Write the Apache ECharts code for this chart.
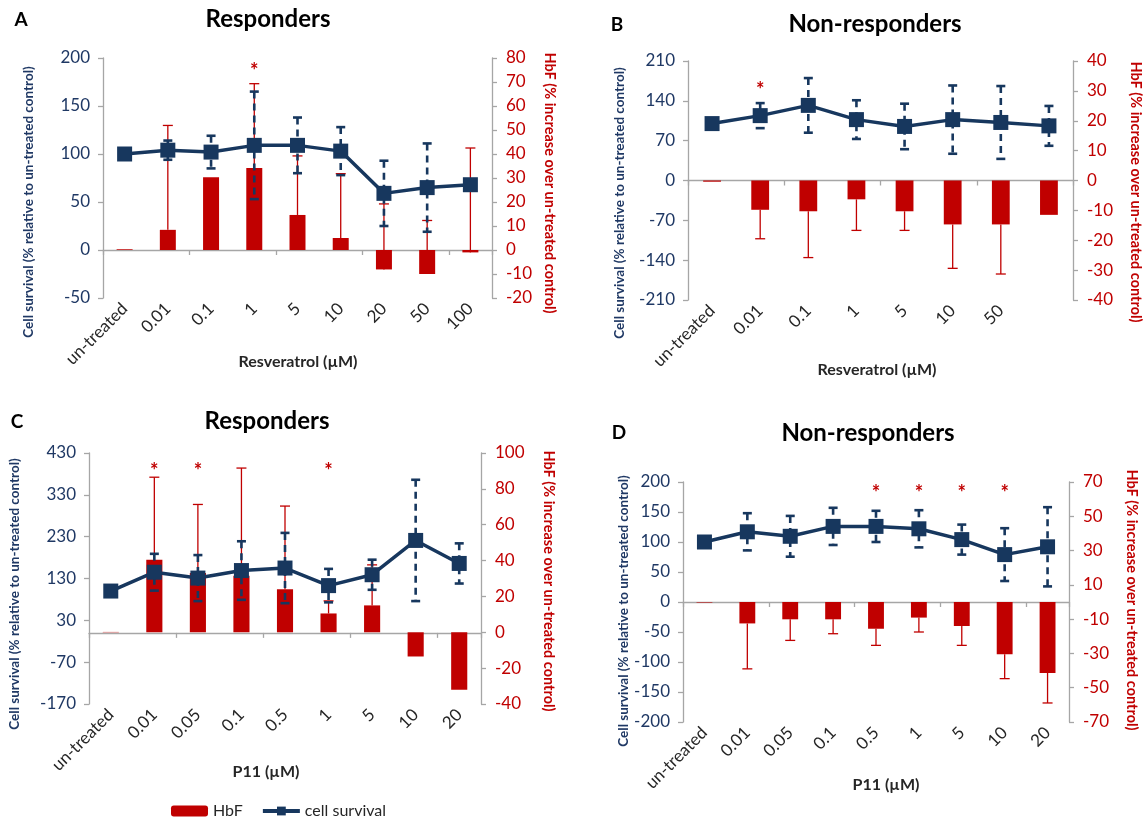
<!DOCTYPE html>
<html>
<head>
<meta charset="utf-8">
<title>Resveratrol / P11 - HbF and cell survival</title>
<script src="https://cdn.jsdelivr.net/npm/echarts@6/dist/echarts.min.js"></script>
<style>
  html, body { margin: 0; padding: 0; background: #fff; }
  #main { width: 1148px; height: 818px; }
</style>
</head>
<body>
<div id="main"></div>
<script>
// ---- data ----
// A: Resveratrol, responders
var catsA = ['un-treated', '0.01', '0.1', '1', '5', '10', '20', '50', '100'];
var cellA = [100, 104, 102, 109, 109, 103, 59, 65, 68];
var cellErrA = [0, 10, 17, 56, 29, 25, 34, 46, 0];
var hbfA = [0.3, 8.4, 30.3, 34.2, 14.6, 5, -8.1, -10, -1];
var hbfErrA = [0, 43.5, 0, 35.1, 24.6, 26.8, 27.3, 22.3, 43.5];
var starsA = ['1'];

// B: Resveratrol, non-responders (last category has no label)
var catsB = ['un-treated', '0.01', '0.1', '1', '5', '10', '50', ''];
var cellB = [100, 114, 132, 107, 95, 107, 102, 96];
var cellErrB = [0, 22, 48, 34, 40, 60, 64, 35];
var hbfB = [-0.4, -9.8, -10.3, -6.3, -10.3, -14.7, -14.7, -11.5];
var hbfErrB = [0, -9.7, -15.5, -10.4, -6.4, -14.7, -16.6, 0];
var starsB = ['0.01'];

// C: P11, responders
var catsC = ['un-treated', '0.01', '0.05', '0.1', '0.5', '1', '5', '10', '20'];
var cellC = [100, 145, 131, 149, 155, 113, 139, 221, 166];
var cellErrC = [0, 44, 55, 70, 84, 40, 36, 145, 48];
var hbfC = [0.2, 40.5, 33, 31.6, 24, 10.5, 15, -13.5, -32];
var hbfErrC = [0, 46, 38.3, 60, 46.4, 7, 22.6, 0, 0];
var starsC = ['0.01', '0.05', '1'];

// D: P11, non-responders
var catsD = ['un-treated', '0.01', '0.05', '0.1', '0.5', '1', '5', '10', '20'];
var cellD = [100, 117, 109.5, 126, 126, 122, 104, 79, 92];
var cellErrD = [0, 31, 34, 31, 26, 31, 25, 44, 66];
var hbfD = [-0.3, -12.5, -10.1, -10.1, -15.6, -9.1, -14, -30.5, -41.4];
var hbfErrD = [0, -26.5, -12.3, -8.4, -9.7, -8.4, -11.3, -14.2, -17.5];
var starsD = ['0.5', '1', '5', '10'];

var NAVY = '#17375E';
var RED = '#C00000';
var GRAY = '#A6A6A6';
var BLUE_TXT = '#1F3864';
var FONT = 'Lato, "Open Sans", sans-serif';

var chart = echarts.init(document.getElementById('main'));

var grids = [], xAxes = [], yAxes = [], series = [];

function blueErr(params, api) {
  var i = api.value(0), c = api.value(1), e = api.value(2);
  if (!e) return null;
  var top = api.coord([i, c + e]);
  var bot = api.coord([i, c - e]);
  var w = 4.5;
  return {
    type: 'group',
    children: [
      { type: 'line', shape: { x1: top[0], y1: top[1], x2: bot[0], y2: bot[1] },
        style: { stroke: NAVY, lineWidth: 2.6, lineDash: [7, 5] } },
      { type: 'line', shape: { x1: top[0] - w, y1: top[1], x2: top[0] + w, y2: top[1] },
        style: { stroke: NAVY, lineWidth: 2.6 } },
      { type: 'line', shape: { x1: bot[0] - w, y1: bot[1], x2: bot[0] + w, y2: bot[1] },
        style: { stroke: NAVY, lineWidth: 2.6 } }
    ]
  };
}

function redErr(params, api) {
  var i = api.value(0), v = api.value(1), off = api.value(2);
  if (!off) return null;
  var a = api.coord([i, v]);
  var b = api.coord([i, v + off]);
  return {
    type: 'group',
    children: [
      { type: 'line', shape: { x1: a[0], y1: a[1], x2: b[0], y2: b[1] },
        style: { stroke: RED, lineWidth: 1.3 } },
      { type: 'line', shape: { x1: b[0] - 5, y1: b[1], x2: b[0] + 5, y2: b[1] },
        style: { stroke: RED, lineWidth: 1.3 } }
    ]
  };
}

function starItem(params, api) {
  var p = api.coord([api.value(0), api.value(1)]);
  return {
    type: 'text',
    x: p[0], y: p[1] + 3,
    style: { text: '*', fill: RED, font: 'bold 20px ' + FONT, align: 'center', verticalAlign: 'middle' }
  };
}

function addPanel(g, box, cats, cell, cellErr, hbf, hbfErr, stars, starY, left, right) {
  grids.push({ left: box[0], top: box[1], width: box[2], height: box[3],
               containLabel: false, outerBoundsMode: 'none' });
  // labels axis at the bottom of the plot
  xAxes.push({
    gridIndex: g, type: 'category', data: cats, position: 'bottom',
    axisLine: { show: false, onZero: false }, axisTick: { show: false },
    axisLabel: { interval: 0, rotate: 45, margin: 8, fontSize: 17, color: '#262626', fontFamily: FONT }
  });
  // zero line with ticks between categories
  xAxes.push({
    gridIndex: g, type: 'category', data: cats, position: 'bottom',
    axisLine: { show: true, onZero: true, lineStyle: { color: GRAY, width: 1.3 } },
    axisTick: { show: true, length: 5, lineStyle: { color: GRAY, width: 1.3 } },
    axisLabel: { show: false }
  });
  yAxes.push({
    gridIndex: g, type: 'value', position: 'left',
    min: left[0], max: left[1], interval: left[2],
    axisLine: { show: true, lineStyle: { color: GRAY, width: 1.3 } },
    axisTick: { show: true, length: 5, lineStyle: { color: GRAY, width: 1.3 } },
    splitLine: { show: false },
    axisLabel: { fontSize: 17, color: BLUE_TXT, margin: 13, fontFamily: FONT }
  });
  yAxes.push({
    gridIndex: g, type: 'value', position: 'right',
    min: right[0], max: right[1], interval: right[2],
    axisLine: { show: true, lineStyle: { color: GRAY, width: 1.3 } },
    axisTick: { show: true, length: 5, lineStyle: { color: GRAY, width: 1.3 } },
    splitLine: { show: false },
    axisLabel: { fontSize: 17, color: RED, margin: 14, fontFamily: FONT }
  });
  var xi = 2 * g, yl = 2 * g, yr = 2 * g + 1;

  series.push({
    name: 'HbF', type: 'bar', xAxisIndex: xi, yAxisIndex: yr,
    data: hbf, barWidth: '37%', itemStyle: { color: RED }, z: 2, animation: false
  });
  series.push({
    type: 'custom', xAxisIndex: xi, yAxisIndex: yr, renderItem: redErr, z: 3, animation: false,
    data: hbf.map(function (v, i) { return [i, v, hbfErr[i]]; })
  });
  series.push({
    type: 'custom', xAxisIndex: xi, yAxisIndex: yl, renderItem: blueErr, z: 4, animation: false,
    data: cell.map(function (v, i) { return [i, v, cellErr[i]]; })
  });
  series.push({
    name: 'cell survival', type: 'line', xAxisIndex: xi, yAxisIndex: yl,
    data: cell, symbol: 'rect', symbolSize: 15, z: 5, animation: false,
    lineStyle: { color: NAVY, width: 3.5 }, itemStyle: { color: NAVY }
  });
  series.push({
    type: 'custom', xAxisIndex: xi, yAxisIndex: yl, renderItem: starItem, z: 6, animation: false,
    data: stars.map(function (s) { return [cats.indexOf(s), starY]; })
  });
}

addPanel(0, [103, 58, 389, 240], catsA, cellA, cellErrA, hbfA, hbfErrA, starsA, 189, [-50, 200, 50], [-20, 80, 10]);
addPanel(1, [688, 61, 385, 239], catsB, cellB, cellErrB, hbfB, hbfErrB, starsB, 164, [-210, 210, 70], [-40, 40, 10]);
addPanel(2, [89, 453, 392, 251], catsC, cellC, cellErrC, hbfC, hbfErrC, starsC, 393, [-170, 430, 100], [-40, 100, 20]);
addPanel(3, [683, 482, 386, 240], catsD, cellD, cellErrD, hbfD, hbfErrD, starsD, 185, [-200, 200, 50], [-70, 70, 20]);

function txt(x, y, s, size, color, rot, weight) {
  return {
    type: 'text', x: x, y: y, rotation: rot || 0, silent: true,
    style: { text: s, fill: color, font: (weight || 'bold') + ' ' + size + 'px ' + FONT,
             align: 'center', verticalAlign: 'middle' }
  };
}
var LEFT_T = 'Cell survival (% relative to un-treated control)';
var RIGHT_T = 'HbF (% increase over un-treated control)';
var R90 = Math.PI / 2;

var graphics = [
  txt(21, 20, 'A', 19, '#000'),
  txt(268, 19, 'Responders', 24, '#000'),
  txt(29, 202, LEFT_T, 13.5, BLUE_TXT, R90),
  txt(550, 183, RIGHT_T, 14.5, RED, -R90),
  txt(298, 362, 'Resveratrol (\u00b5M)', 16, '#262626'),

  txt(617, 25, 'B', 19, '#000'),
  txt(875, 24, 'Non-responders', 24, '#000'),
  txt(620, 203, LEFT_T, 13.5, BLUE_TXT, R90),
  txt(1136, 192, RIGHT_T, 14.5, RED, -R90),
  txt(877, 370, 'Resveratrol (\u00b5M)', 16, '#262626'),

  txt(17, 422, 'C', 19, '#000'),
  txt(267, 421, 'Responders', 24, '#000'),
  txt(15, 594, LEFT_T, 13.5, BLUE_TXT, R90),
  txt(549, 581, RIGHT_T, 14.5, RED, -R90),
  txt(266, 772, 'P11 (\u00b5M)', 16, '#262626'),

  txt(619, 433, 'D', 19, '#000'),
  txt(868, 433, 'Non-responders', 24, '#000'),
  txt(624, 611, LEFT_T, 13.5, BLUE_TXT, R90),
  txt(1132, 600, RIGHT_T, 14.5, RED, -R90),
  txt(886, 785, 'P11 (\u00b5M)', 16, '#262626')
];

chart.setOption({
  animation: false,
  backgroundColor: '#fff',
  textStyle: { fontFamily: FONT },
  grid: grids,
  xAxis: xAxes,
  yAxis: yAxes,
  legend: {
    data: ['HbF', 'cell survival'],
    left: 166, top: 798,
    itemWidth: 37, itemHeight: 11, itemGap: 18,
    lineStyle: { width: 4 },
    textStyle: { fontSize: 16, color: '#262626', fontFamily: FONT }
  },
  graphic: graphics,
  series: series
});
</script>
</body>
</html>
